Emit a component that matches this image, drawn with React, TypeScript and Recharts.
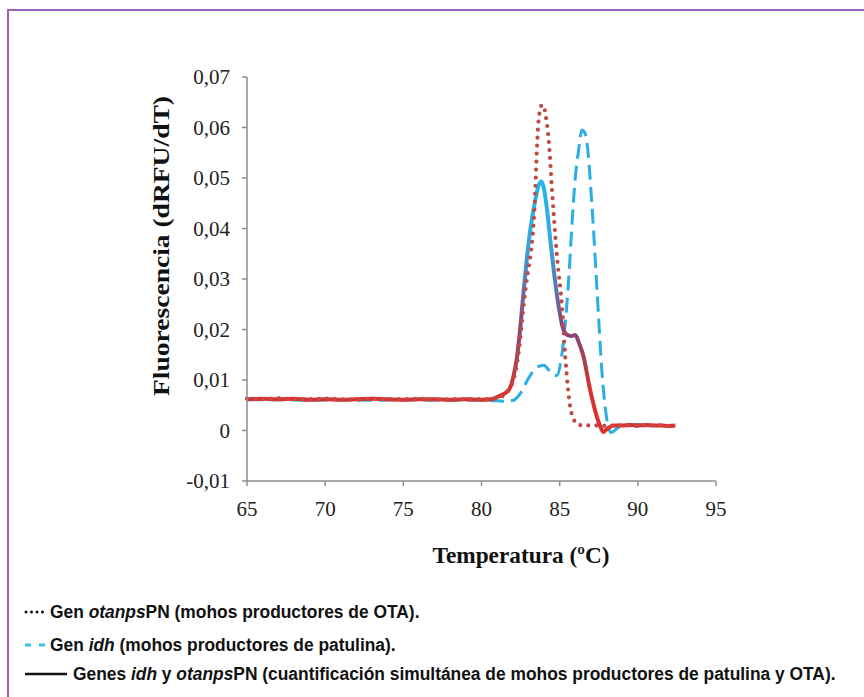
import React from 'react';
import { LineChart, Line, XAxis, YAxis } from 'recharts';

// Temperature ticks and fluorescence ticks
const xTicks = [65, 70, 75, 80, 85, 90, 95];
const yTicks = [-0.01, 0, 0.01, 0.02, 0.03, 0.04, 0.05, 0.06, 0.07];

// Genes idh y otanpsPN (solid line)
const bothTemp = [65, 66, 67, 68, 69, 70, 71, 72, 73, 74, 75, 76, 77, 78, 79, 80, 80.6, 81.2, 81.6, 81.85, 82.05, 82.27, 82.5, 82.7, 82.9, 83.12, 83.44, 83.65, 83.83, 84.0, 84.2, 84.4, 84.65, 84.94, 85.15, 85.37, 85.7, 86.0, 86.25, 86.54, 86.75, 86.96, 87.18, 87.39, 87.6, 87.8, 88.1, 88.45, 89, 89.5, 90, 90.5, 91, 91.5, 92, 92.4];
const bothVal = [0.0062, 0.0063, 0.0062, 0.0063, 0.0061, 0.0062, 0.0061, 0.0062, 0.0063, 0.0062, 0.0061, 0.0062, 0.0062, 0.0061, 0.0062, 0.0061, 0.0062, 0.0069, 0.0076, 0.0086, 0.0108, 0.0145, 0.021, 0.0278, 0.034, 0.0397, 0.0456, 0.0485, 0.0493, 0.0478, 0.0435, 0.0377, 0.031, 0.0245, 0.021, 0.0192, 0.0187, 0.0189, 0.0172, 0.0145, 0.0112, 0.0079, 0.005, 0.0026, 0.0008, -0.0003, 0.0005, 0.001, 0.001, 0.0011, 0.001, 0.0011, 0.001, 0.001, 0.0009, 0.001];

// Gen otanpsPN (dotted line)
const otaTemp = [65, 66, 67, 68, 69, 70, 71, 72, 73, 74, 75, 76, 77, 78, 79, 80, 80.6, 81.2, 81.6, 81.85, 82.1, 82.4, 82.7, 82.95, 83.12, 83.33, 83.44, 83.52, 83.64, 83.75, 83.87, 84.0, 84.15, 84.3, 84.51, 84.83, 85.15, 85.36, 85.68, 85.9, 86.1, 86.5, 87, 87.5, 88, 88.5, 89, 89.5, 90, 90.5, 91, 91.5, 92, 92.3];
const otaVal = [0.0063, 0.0062, 0.0064, 0.0062, 0.0062, 0.0063, 0.0062, 0.0061, 0.0063, 0.0062, 0.0062, 0.0063, 0.0061, 0.0062, 0.0062, 0.0062, 0.0062, 0.0066, 0.0074, 0.0085, 0.0106, 0.016, 0.025, 0.031, 0.0344, 0.041, 0.0476, 0.054, 0.061, 0.0635, 0.0645, 0.064, 0.0615, 0.0575, 0.0476, 0.0344, 0.0245, 0.0145, 0.0046, 0.0022, 0.0013, 0.001, 0.001, 0.001, 0.0009, 0.001, 0.001, 0.001, 0.0009, 0.001, 0.001, 0.001, 0.0009, 0.001];

// Gen idh (dashed line)
const idhTemp = [65, 67, 69, 71, 73, 75, 77, 79, 81, 81.5, 82.06, 82.5, 83.0, 83.5, 83.98, 84.3, 84.6, 84.83, 85.1, 85.36, 85.6, 85.79, 86.0, 86.21, 86.43, 86.6, 86.75, 87.07, 87.39, 87.71, 88.03, 88.3, 88.7, 89.2, 89.8, 90.4, 91, 91.6, 92.2];
const idhVal = [0.0061, 0.0061, 0.006, 0.0061, 0.006, 0.0061, 0.006, 0.006, 0.0059, 0.0058, 0.006, 0.0074, 0.0103, 0.0124, 0.0129, 0.012, 0.011, 0.0109, 0.0142, 0.0212, 0.031, 0.041, 0.05, 0.0555, 0.0595, 0.059, 0.0569, 0.0443, 0.0278, 0.0113, 0.002, -0.0004, 0.0005, 0.001, 0.0012, 0.0012, 0.001, 0.001, 0.001];

const toPoints = (temps: number[], vals: number[]) => temps.map((t, i) => ({ t, v: vals[i] }));
const bothData = toPoints(bothTemp, bothVal);
const otaData = toPoints(otaTemp, otaVal);
const idhData = toPoints(idhTemp, idhVal);

const fmtY = (v: number) => (Math.abs(v) < 1e-9 ? '0' : v.toFixed(2).replace('.', ','));

const SERIF = "'Liberation Serif', 'Times New Roman', serif";
const NARROW = "'Liberation Sans', Arial, sans-serif";
// the original legend font is a condensed bold, so squeeze it a bit
const SQUEEZE = 0.915;

export default function App() {
  return (
    <div style={{ position: 'absolute', left: 0, top: 0, width: 864, height: 697, background: '#fff', overflow: 'hidden' }}>
      {/* purple frame */}
      <div style={{ position: 'absolute', left: 7, top: 9, width: 900, height: 800, borderTop: '2px solid #9d62b8', borderLeft: '2px solid #9d62b8' }} />

      <div style={{ position: 'absolute', left: 0, top: 0 }}>
        <LineChart width={864} height={540} margin={{ top: 77, right: 148, left: 157, bottom: 29 }}>
          <defs>
            <linearGradient id="bothGrad" x1="0" y1="0" x2="0" y2="1">
              <stop offset="0" stopColor="#27b6e8" />
              <stop offset="0.22" stopColor="#30ace0" />
              <stop offset="0.42" stopColor="#5679b6" />
              <stop offset="0.56" stopColor="#7c4c84" />
              <stop offset="0.72" stopColor="#a8404f" />
              <stop offset="0.84" stopColor="#da302e" />
              <stop offset="1" stopColor="#e0302c" />
            </linearGradient>
          </defs>
          <XAxis
            type="number"
            dataKey="t"
            domain={[65, 95]}
            ticks={xTicks}
            height={30}
            stroke="#8c8c8c"
            strokeWidth={1.5}
            tickSize={5}
            tickMargin={15}
            tick={{ fill: '#222', fontSize: 21, fontFamily: SERIF }}
          />
          <YAxis
            type="number"
            domain={[-0.01, 0.07]}
            ticks={yTicks}
            width={90}
            stroke="#8c8c8c"
            strokeWidth={1.5}
            tickSize={5}
            tickMargin={12}
            tickFormatter={fmtY}
            tick={{ fill: '#222', fontSize: 21, fontFamily: SERIF }}
          />
          <Line data={idhData} dataKey="v" type="monotone" stroke="#2aaee4" strokeWidth={3} strokeDasharray="15 7" dot={false} isAnimationActive={false} />
          <Line data={bothData} dataKey="v" type="monotone" stroke="url(#bothGrad)" strokeWidth={4} dot={false} isAnimationActive={false} />
          <Line data={otaData} dataKey="v" type="monotone" stroke="#bf4a47" strokeWidth={4.2} strokeDasharray="0 8" strokeLinecap="round" dot={false} isAnimationActive={false} />
        </LineChart>
      </div>

      <svg width={864} height={697} style={{ position: 'absolute', left: 0, top: 0, pointerEvents: 'none' }}>
        {/* axis titles */}
        <text x={521} y={563} textAnchor="middle" fontFamily={SERIF} fontWeight="bold" fontSize={23} fill="#111" textLength={177} lengthAdjust="spacingAndGlyphs">
          Temperatura (ºC)
        </text>
        <text x={0} y={0} transform="translate(169, 246) rotate(-90)" textAnchor="middle" fontFamily={SERIF} fontWeight="bold" fontSize={24} fill="#111" textLength={300} lengthAdjust="spacingAndGlyphs">
          Fluorescencia (dRFU/dT)
        </text>

        {/* legend */}
        <line x1={26} y1={612} x2={46} y2={612} stroke="#111" strokeWidth={3} strokeDasharray="0 5.5" strokeLinecap="round" />
        <g transform={`translate(50, 618) scale(${SQUEEZE}, 1)`}>
          <text x={0} y={0} fontFamily={NARROW} fontWeight="bold" fontSize={19} fill="#111">
            Gen <tspan fontStyle="italic">otanps</tspan>PN (mohos productores de OTA).
          </text>
        </g>
        <line x1={25} y1={645} x2={46} y2={645} stroke="#3fbfee" strokeWidth={3} strokeDasharray="6 8" />
        <g transform={`translate(50, 651) scale(${SQUEEZE}, 1)`}>
          <text x={0} y={0} fontFamily={NARROW} fontWeight="bold" fontSize={19} fill="#111">
            Gen <tspan fontStyle="italic">idh</tspan> (mohos productores de patulina).
          </text>
        </g>
        <line x1={25} y1={674} x2={67} y2={674} stroke="#111" strokeWidth={2.5} />
        <g transform={`translate(73, 680) scale(${SQUEEZE}, 1)`}>
          <text x={0} y={0} fontFamily={NARROW} fontWeight="bold" fontSize={19} fill="#111">
            Genes <tspan fontStyle="italic">idh</tspan> y <tspan fontStyle="italic">otanps</tspan>PN (cuantificación simultánea de mohos productores de patulina y OTA).
          </text>
        </g>
      </svg>
    </div>
  );
}
